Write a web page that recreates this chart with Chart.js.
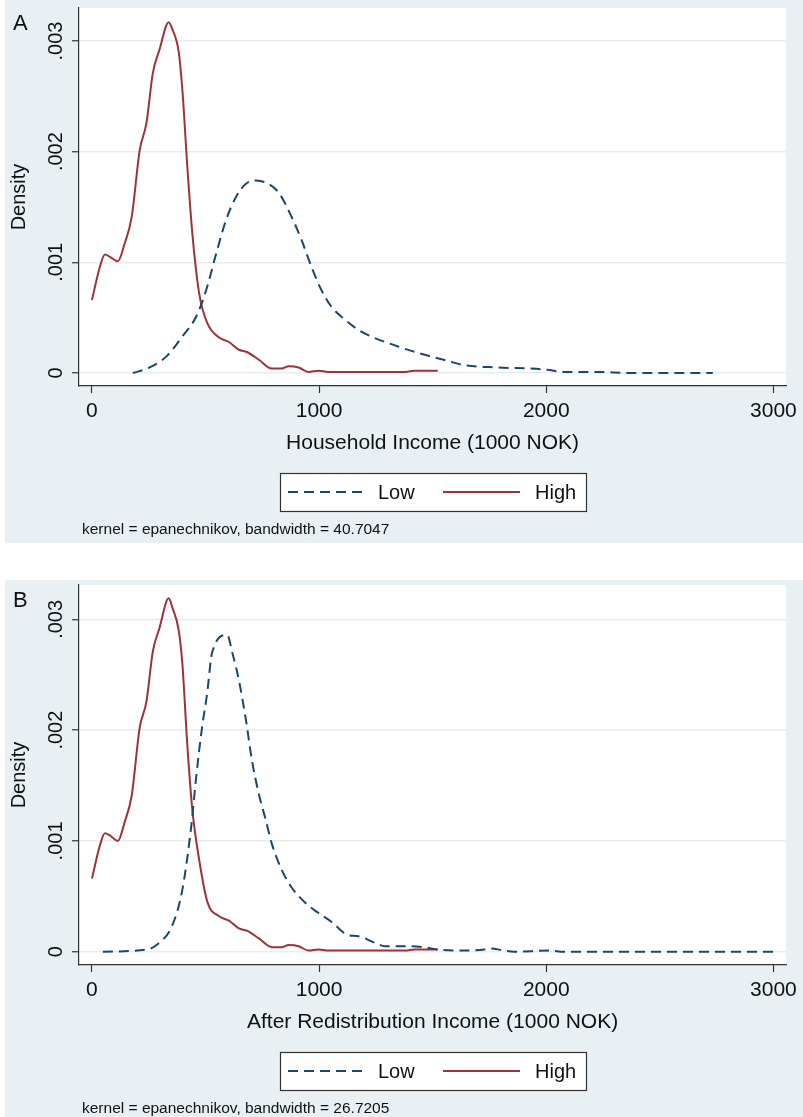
<!DOCTYPE html>
<html>
<head>
<meta charset="utf-8">
<script src="https://cdn.jsdelivr.net/npm/chart.js@4.4.1/dist/chart.umd.min.js"></script>
<style>
  html, body { margin: 0; padding: 0; background: #fff; overflow: hidden; }
  body { width: 803px; height: 1117px; position: relative; }
  .panel { position: absolute; left: 5px; background: #e9f0f3; }
  #panelA { top: 0; width: 798px; height: 543px; }
  #panelB { top: 580px; width: 798px; height: 537px; }
  canvas { display: block; }
</style>
</head>
<body>
<div class="panel" id="panelA"><canvas id="chartA" width="798" height="543"></canvas></div>
<div class="panel" id="panelB"><canvas id="chartB" width="798" height="537"></canvas></div>
<script>
// axis ticks
const xTicks = [0, 1000, 2000, 3000];
const yTicks = [0, 0.001, 0.002, 0.003];
const yTickLabels = ['0', '.001', '.002', '.003'];
const seriesNames = ['Low', 'High'];

// Panel A - household income
const lowAX = [180, 254, 328, 398, 459, 503, 547, 590, 634, 678, 721, 765, 822, 879, 923, 966, 1010, 1054, 1115, 1172, 1229, 1347, 1421, 1491, 1565, 1640, 1784, 1928, 2003, 2077, 2221, 2366, 2733];
const lowAY = [0, .00005, .00015, .00033, .00051, .00075, .00108, .00138, .00159, .00171, .00174, .00172, .00163, .00141, .0012, .00096, .00075, .0006, .00048, .00039, .00033, .00024, .00019, .00015, .00011, .00007, .00005, .00004, .00003, .00001, .00001, 0, 0];
const highAX = [0, 35, 57, 79, 114, 144, 175, 210, 240, 268, 297, 338, 355, 382, 398, 420, 442, 472, 508, 560, 603, 647, 682, 735, 792, 835, 866, 910, 953, 997, 1040, 1200, 1380, 1420, 1522];
const highAY = [.00066, .00096, .00107, .00105, .00101, .00117, .00141, .00201, .00226, .00271, .00292, .00317, .0031, .0029, .00256, .00186, .00126, .00072, .00045, .00032, .00028, .00021, .00019, .00012, .00004, .00004, .00006, .00005, .00001, .00002, .00001, .00001, .00001, .00002, .00002];

// Panel B - after redistribution income
const lowBX = [48, 240, 284, 354, 398, 437, 459, 485, 507, 529, 595, 619, 647, 678, 704, 734, 765, 791, 835, 879, 940, 997, 1054, 1128, 1172, 1246, 1290, 1390, 1465, 1522, 1640, 1727, 1753, 1815, 1858, 2016, 2077, 3008];
const lowBY = [0, .00002, .00006, .00024, .00056, .00113, .00158, .00203, .00233, .0027, .00286, .00269, .00245, .00209, .00173, .00143, .00119, .00098, .00074, .00058, .00044, .00035, .00027, .00015, .00014, .00008, .00005, .00005, .00004, .00002, .00001, .00002, .00003, .00001, 0, .00001, 0, 0];
const highBX = [0, 35, 57, 79, 114, 144, 175, 210, 240, 268, 297, 338, 355, 382, 398, 420, 442, 472, 508, 560, 603, 647, 682, 735, 792, 835, 866, 910, 953, 997, 1040, 1200, 1380, 1420, 1522];
const highBY = [.00066, .00096, .00107, .00105, .001, .00117, .00141, .00202, .00226, .00271, .00292, .00319, .0031, .0029, .0026, .00186, .00128, .00083, .00045, .00032, .00028, .00021, .00019, .00012, .00004, .00004, .00006, .00005, .00001, .00002, .00001, .00001, .00001, .00002, .00002];

const FONT = "'Liberation Sans', Arial, Helvetica, sans-serif";
const textColor = '#111';
const axisColor = '#333';
const gridColor = '#e4edf0';
const lowColor = '#1a476f';
const highColor = '#9e3239';

Chart.defaults.font.family = FONT;
Chart.defaults.color = textColor;
Chart.defaults.animation = false;

const toPoints = (xs, ys) => xs.map((x, i) => ({ x: x, y: ys[i] }));

const panelDecor = {
  id: 'panelDecor',
  beforeDraw(chart) {
    const { ctx, chartArea: ca } = chart;
    ctx.save();
    ctx.fillStyle = '#fff';
    ctx.fillRect(ca.left, ca.top, ca.right - ca.left, ca.bottom - ca.top);
    ctx.restore();
  },
  afterDraw(chart, args, opts) {
    const { ctx, chartArea: ca } = chart;
    const yScale = chart.scales.y;
    ctx.save();
    ctx.fillStyle = textColor;

    // panel letter
    ctx.font = '22px ' + FONT;
    ctx.textAlign = 'left';
    ctx.textBaseline = 'alphabetic';
    ctx.fillText(opts.letter, 8, opts.letterY);

    // rotated y tick labels
    ctx.font = '20px ' + FONT;
    ctx.textAlign = 'center';
    yTicks.forEach((v, i) => {
      ctx.save();
      ctx.translate(57, yScale.getPixelForValue(v));
      ctx.rotate(-Math.PI / 2);
      ctx.fillText(yTickLabels[i], 0, 0);
      ctx.restore();
    });

    // legend box
    const cx = (ca.left + ca.right) / 2;
    const top = Math.round(ca.bottom + 87);
    const left = Math.round(cx - 153);
    const w = 306, h = 38;
    ctx.fillStyle = '#fff';
    ctx.fillRect(left, top, w, h);
    ctx.strokeStyle = axisColor;
    ctx.lineWidth = 1.2;
    ctx.setLineDash([]);
    ctx.strokeRect(left + 0.5, top + 0.5, w, h);
    const midY = top + h / 2;
    const sampleX = [8, 163];
    const labelX = [98, 255];
    chart.data.datasets.forEach((ds, i) => {
      ctx.beginPath();
      ctx.strokeStyle = ds.borderColor;
      ctx.lineWidth = ds.borderWidth;
      ctx.setLineDash(ds.borderDash || []);
      ctx.moveTo(left + sampleX[i], midY);
      ctx.lineTo(left + sampleX[i] + 77, midY);
      ctx.stroke();
      ctx.setLineDash([]);
      ctx.fillStyle = textColor;
      ctx.font = '20px ' + FONT;
      ctx.textAlign = 'left';
      ctx.textBaseline = 'middle';
      ctx.fillText(ds.label, left + labelX[i], midY + 1);
    });

    // kernel note
    ctx.font = '15.5px ' + FONT;
    ctx.textAlign = 'left';
    ctx.textBaseline = 'middle';
    ctx.fillText(opts.note, 77, ca.bottom + 144);
    ctx.restore();
  }
};

function makeChart(id, cfg) {
  return new Chart(document.getElementById(id), {
    type: 'line',
    data: {
      datasets: [{
        label: seriesNames[0],
        data: toPoints(cfg.lowX, cfg.lowY),
        borderColor: lowColor,
        borderWidth: 2,
        borderDash: [10, 6],
        pointRadius: 0,
        cubicInterpolationMode: 'monotone',
        fill: false
      }, {
        label: seriesNames[1],
        data: toPoints(cfg.highX, cfg.highY),
        borderColor: highColor,
        borderWidth: 2,
        pointRadius: 0,
        cubicInterpolationMode: 'monotone',
        fill: false
      }]
    },
    options: {
      responsive: false,
      layout: { padding: { top: cfg.top, right: 12, bottom: cfg.bottom, left: 0 } },
      plugins: {
        legend: { display: false },
        tooltip: { enabled: false },
        panelDecor: { letter: cfg.letter, letterY: cfg.letterY, note: cfg.note }
      },
      scales: {
        x: {
          type: 'linear',
          min: -57,
          max: 3056,
          afterBuildTicks: s => { s.ticks = xTicks.map(v => ({ value: v })); },
          afterFit: s => { s.height = 70; },
          border: { color: axisColor, width: 1.2 },
          grid: { drawOnChartArea: false, tickLength: 7, tickColor: axisColor, tickWidth: 1.2 },
          ticks: { font: { size: 21 }, color: textColor, padding: 6, maxRotation: 0, callback: v => String(v) },
          title: { display: true, text: cfg.xTitle, font: { size: 21 }, color: textColor, padding: { top: 0, bottom: 0 } }
        },
        y: {
          type: 'linear',
          min: cfg.yMin,
          max: cfg.yMax,
          afterBuildTicks: s => { s.ticks = yTicks.map(v => ({ value: v })); },
          afterFit: s => { s.width = 74; },
          border: { color: axisColor, width: 1.2 },
          grid: { color: gridColor, lineWidth: 1.5, tickLength: 7, tickColor: axisColor, tickWidth: 1.2 },
          ticks: { display: false },
          title: { display: true, text: 'Density', font: { size: 20 }, color: textColor, padding: { top: 2, bottom: 0 } }
        }
      }
    },
    plugins: [panelDecor]
  });
}

makeChart('chartA', {
  lowX: lowAX, lowY: lowAY, highX: highAX, highY: highAY,
  top: 8, bottom: 87, yMin: -0.0001175, yMax: 0.003298,
  letter: 'A', letterY: 30,
  xTitle: 'Household Income (1000 NOK)',
  note: 'kernel = epanechnikov, bandwidth = 40.7047'
});

makeChart('chartB', {
  lowX: lowBX, lowY: lowBY, highX: highBX, highY: highBY,
  top: 5, bottom: 82, yMin: -0.00012, yMax: 0.00331,
  letter: 'B', letterY: 27,
  xTitle: 'After Redistribution Income (1000 NOK)',
  note: 'kernel = epanechnikov, bandwidth = 26.7205'
});
</script>
</body>
</html>
